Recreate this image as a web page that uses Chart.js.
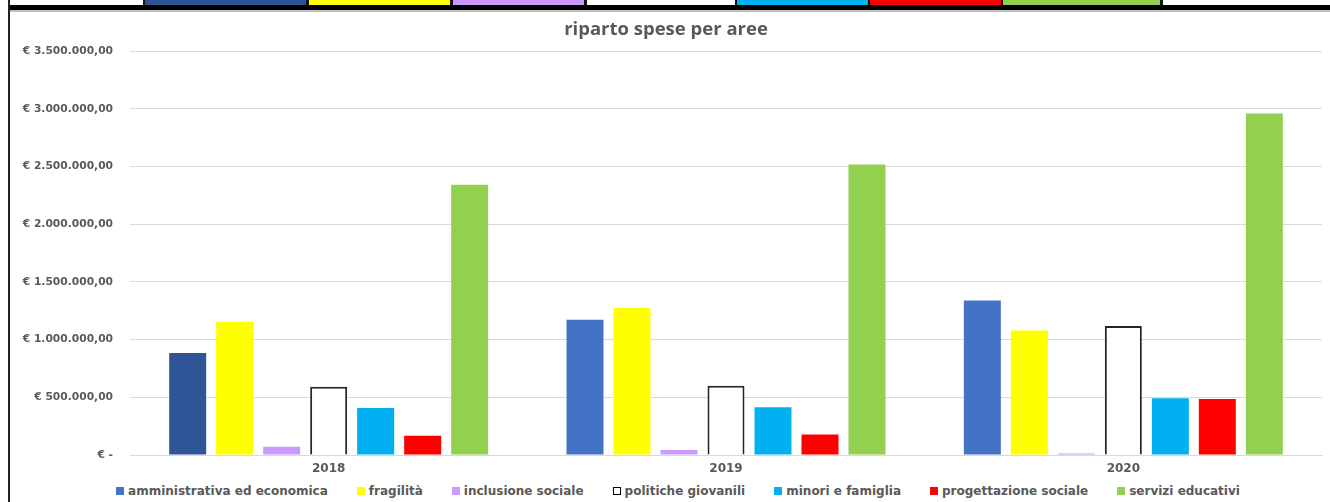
<!DOCTYPE html>
<html>
<head>
<meta charset="utf-8">
<script src="https://cdn.jsdelivr.net/npm/chart.js@4.4.1/dist/chart.umd.min.js"></script>
<style>
  html, body { margin:0; padding:0; background:#fff; }
  body { width:1330px; height:502px; position:relative; overflow:hidden; font-family:"DejaVu Sans", sans-serif; }
  #strip { position:absolute; left:8px; top:0; width:1322px; height:5px; background:#111; }
  .cell { position:absolute; top:0; height:5px; }
  #blackbar { position:absolute; left:8px; top:5px; width:1322px; height:5px; background:#000; }
  #greyline { position:absolute; left:10px; top:10px; width:1320px; height:2px; background:#bfbfbf; }
  #leftborder { position:absolute; left:8px; top:0; width:2px; height:502px; background:#222; }
  #wrap { position:absolute; left:10px; top:12px; width:1320px; height:470px; }
  #legend { position:absolute; left:26px; top:482px; width:1304px; height:18px; display:flex; justify-content:center; align-items:center;
            font:bold 12px "DejaVu Sans", sans-serif; color:#595959; }
  .li { display:flex; align-items:center; margin-right:29px; white-space:nowrap; }
  .li:last-child { margin-right:0; }
  .box { width:8px; height:8px; margin-right:4px; box-sizing:border-box; }
</style>
</head>
<body>
<div id="strip"></div>
<div id="blackbar"></div>
<div id="greyline"></div>
<div id="leftborder"></div>
<div id="wrap"><canvas id="c" width="1320" height="470"></canvas></div>
<div id="legend"></div>
<script>
// ---- data ----
const categories = ['2018', '2019', '2020'];
const seriesNames = ['amministrativa ed economica', 'fragilità', 'inclusione sociale', 'politiche giovanili', 'minori e famiglia', 'progettazione sociale', 'servizi educativi'];
const amministrativa = [885000, 1172000, 1339000];
const fragilita      = [1155000, 1276000, 1080000];
const inclusione     = [72000, 43000, 12000];
const politiche      = [592000, 601000, 1118000];
const minori         = [408000, 414000, 491000];
const progettazione  = [166000, 178000, 485000];
const servizi        = [2342000, 2517000, 2960000];
const yTicks = [0, 500000, 1000000, 1500000, 2000000, 2500000, 3000000, 3500000];

// ---- decorative spreadsheet strip (cells above the chart) ----
const stripCells = [
  ['#ffffff', 2, 133], ['#2F5597', 137, 161], ['#FFFF00', 301, 141], ['#CC99FF', 445, 131],
  ['#ffffff', 579, 148], ['#00B0F0', 729, 131], ['#FF0000', 862, 131], ['#92D050', 995, 157], ['#ffffff', 1155, 167]
];
const strip = document.getElementById('strip');
stripCells.forEach(([col, x, w]) => {
  const d = document.createElement('div');
  d.className = 'cell';
  d.style.left = x + 'px'; d.style.width = w + 'px'; d.style.background = col;
  strip.appendChild(d);
});

const colors = ['#4472C4', '#FFFF00', '#CC99FF', '#FFFFFF', '#00B0F0', '#FF0000', '#92D050'];
const values = [amministrativa, fragilita, inclusione, politiche, minori, progettazione, servizi];

function fmtEuro(v) {
  if (v === 0) return '€ -';
  const s = Math.round(v).toString().replace(/\B(?=(\d{3})+(?!\d))/g, '.');
  return '€ ' + s + ',00';
}

const datasets = seriesNames.map((name, i) => {
  const ds = {
    label: name,
    data: values[i],
    backgroundColor: colors[i],
    borderColor: i === 3 ? '#262626' : colors[i],
    borderWidth: i === 3 ? 2 : 0,
    categoryPercentage: 0.828,
    barPercentage: 0.787
  };
  if (i === 0) {
    ds.backgroundColor = (ctx) => (ctx.dataIndex === 0 ? '#2F5597' : '#4472C4');
  }
  return ds;
});

const chart = new Chart(document.getElementById('c'), {
  type: 'bar',
  data: { labels: categories, datasets },
  options: {
    responsive: false,
    animation: false,
    layout: { padding: { left: 0, right: 8, top: 0, bottom: 0 } },
    plugins: {
      legend: { display: false },
      tooltip: { enabled: false },
      title: {
        display: true,
        text: 'riparto spese per aree',
        color: '#595959',
        font: { family: 'Open Sans', size: 18.5, weight: 'bold', lineHeight: 1.2 },
        padding: { top: 7, bottom: 10 }
      }
    },
    scales: {
      x: {
        grid: { display: false, drawTicks: false },
        border: { display: true, color: '#d9d9d9', width: 1 },
        ticks: { color: '#595959', font: { family: 'DejaVu Sans', size: 12, weight: 'bold' }, padding: 7 },
        afterFit: (s) => { s.height = 27; }
      },
      y: {
        min: 0, max: 3500000,
        afterBuildTicks: (s) => { s.ticks = yTicks.map(v => ({ value: v })); },
        grid: { color: '#d9d9d9', lineWidth: 1, drawTicks: false },
        border: { display: false },
        ticks: {
          color: '#595959',
          font: { family: 'DejaVu Sans', size: 10.7, weight: 'bold' },
          padding: 17,
          callback: (v) => fmtEuro(v)
        },
        afterFit: (s) => { s.width = 120; }
      }
    }
  }
});

// HTML legend built from the chart's datasets
const leg = document.getElementById('legend');
chart.data.datasets.forEach((ds, i) => {
  const li = document.createElement('div');
  li.className = 'li';
  const b = document.createElement('div');
  b.className = 'box';
  b.style.background = colors[i];
  if (i === 3) b.style.border = '1.5px solid #000';
  const t = document.createElement('span');
  t.textContent = ds.label;
  li.appendChild(b); li.appendChild(t);
  leg.appendChild(li);
});
</script>
</body>
</html>
